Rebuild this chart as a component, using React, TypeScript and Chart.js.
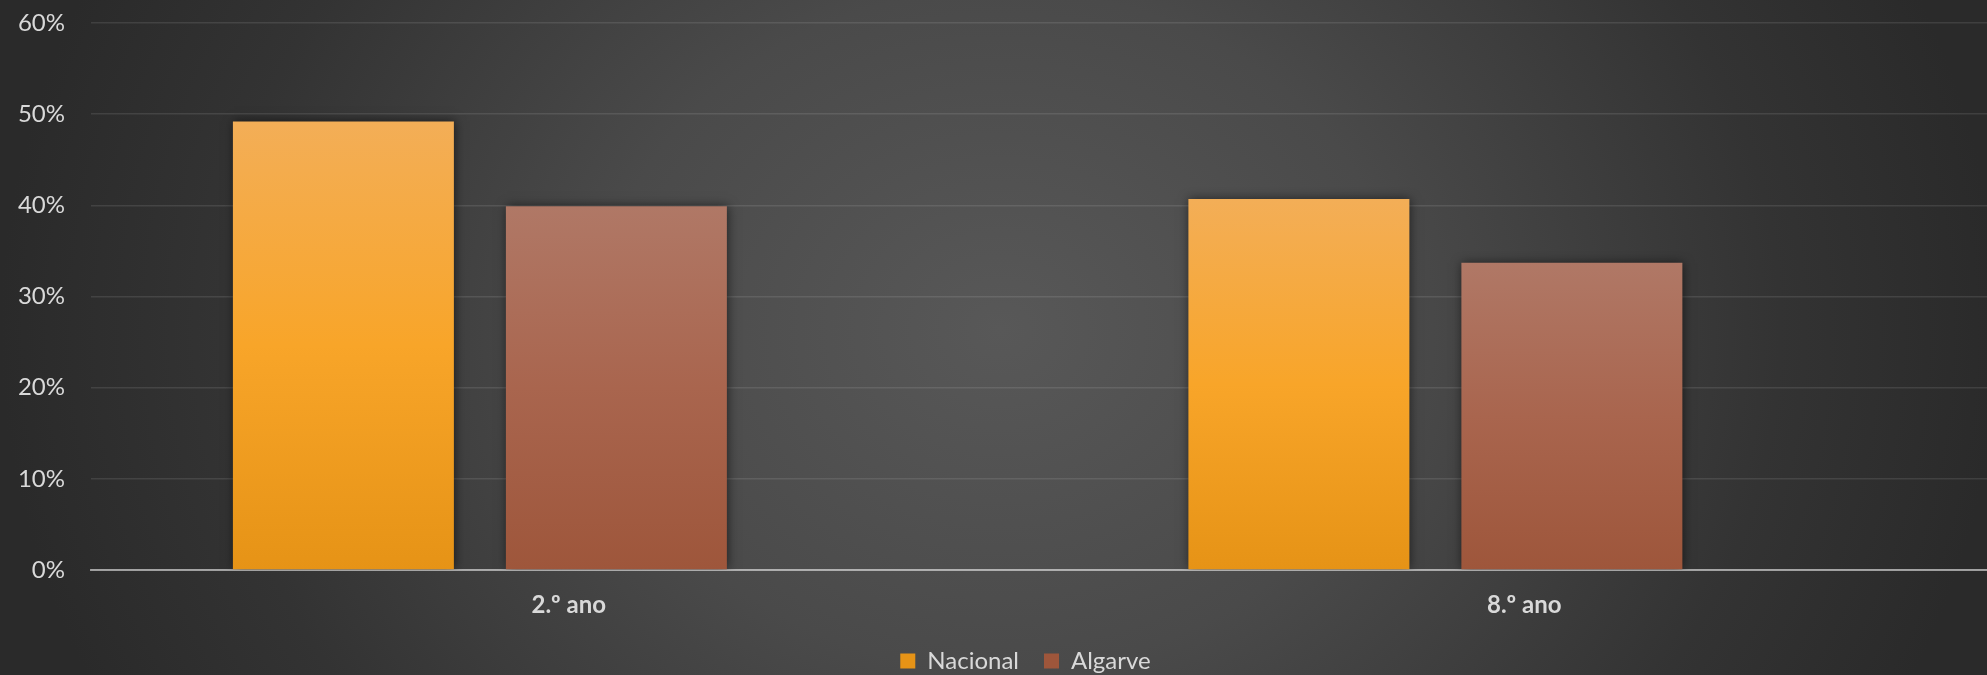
import React, { useEffect, useRef } from "react";
import { Chart, registerables } from "chart.js";

Chart.register(...registerables);

// ---- data ----
const categories: string[] = ["2.º ano", "8.º ano"];
const seriesNames: string[] = ["Nacional", "Algarve"];
const nacional: number[] = [49.2, 40.7];
const algarve: number[] = [39.9, 33.7];
const yMin = 0;
const yMax = 60;
const yStep = 10;

// ---- styles ----
const FONT = "Lato, 'Open Sans', sans-serif";
const TEXT = "#d9d9d9";
const barShift = 0.093; // bar group sits a bit left of its category label (as in the reference)
const gradients: [string, string, string][] = [
  ["#f3ae57", "#f8a529", "#e69316"],
  ["#b07866", "#a9654e", "#9e563b"],
];
const solids = ["#f6a530", "#a8634c"];

function makeBg(i: number) {
  return (ctx: any) => {
    const chart = ctx.chart;
    if (ctx.type !== "data" || !chart.chartArea) return solids[i];
    const y = chart.scales.y;
    const v = ctx.parsed ? ctx.parsed.y : 0;
    const top = y.getPixelForValue(v);
    const bot = y.getPixelForValue(0);
    if (!isFinite(top) || !isFinite(bot) || top === bot) return solids[i];
    const g = chart.ctx.createLinearGradient(0, top, 0, bot);
    g.addColorStop(0, gradients[i][0]);
    g.addColorStop(0.5, gradients[i][1]);
    g.addColorStop(1, gradients[i][2]);
    return g;
  };
}

const shadowPlugin = {
  id: "barShadow",
  beforeDatasetsDraw(chart: any) {
    const c = chart.ctx;
    c.save();
    c.shadowColor = "rgba(0,0,0,0.55)";
    c.shadowBlur = 10;
    c.shadowOffsetX = 1;
    c.shadowOffsetY = 0;
  },
  afterDatasetsDraw(chart: any) {
    chart.ctx.restore();
  },
};

export default function App() {
  const ref = useRef<HTMLCanvasElement | null>(null);

  useEffect(() => {
    if (!ref.current) return;
    const series = [nacional, algarve];
    const chart = new Chart(ref.current, {
      type: "bar",
      data: {
        labels: categories,
        datasets: seriesNames.map((name, si) => ({
          label: name,
          data: categories.map((_, ci) => ({ x: ci, y: series[si][ci] })),
          xAxisID: "xb",
          backgroundColor: makeBg(si),
          borderWidth: 0,
          categoryPercentage: 0.5714,
          barPercentage: 0.8095,
        })),
      },
      options: {
        animation: false,
        responsive: true,
        maintainAspectRatio: false,
        layout: { padding: { top: 23, right: 0, left: 0, bottom: 0 } },
        plugins: {
          legend: {
            position: "bottom",
            labels: {
              color: TEXT,
              font: { family: FONT, size: 24 },
              boxWidth: 15,
              boxHeight: 15,
              padding: 25,
            },
          },
          tooltip: { enabled: false },
        },
        scales: {
          x: {
            type: "category",
            axis: "x",
            position: "bottom",
            offset: true,
            z: 1,
            grid: { display: false, drawTicks: false, offset: true },
            border: { display: true, color: "rgba(255,255,255,0.52)", width: 2 },
            ticks: {
              color: TEXT,
              font: { family: FONT, size: 24, weight: "bold" },
              padding: 21,
              maxRotation: 0,
            },
            afterFit: (s: any) => {
              s.height = 54;
            },
          },
          xb: {
            type: "linear",
            axis: "x",
            position: "bottom",
            display: false,
            offset: false,
            min: -0.5 + barShift,
            max: categories.length - 0.5 + barShift,
            ticks: { stepSize: 1 },
            grid: { display: false },
          },
          y: {
            min: yMin,
            max: yMax,
            grid: { color: "rgba(255,255,255,0.1)", lineWidth: 1.5, drawTicks: false },
            border: { display: false },
            ticks: {
              stepSize: yStep,
              color: TEXT,
              font: { family: FONT, size: 24 },
              padding: 26,
              callback: (v: any) => v + "%",
            },
            afterFit: (s: any) => {
              s.width = 91;
              s.paddingTop = 14;
              s.paddingBottom = 14;
            },
          },
          yRight: {
            type: "linear",
            axis: "y",
            position: "right",
            display: false,
            afterFit: (s: any) => {
              s.width = 49;
            },
          },
        },
      } as any,
      plugins: [shadowPlugin],
    });
    return () => chart.destroy();
  }, []);

  return (
    <div
      style={{
        position: "fixed",
        left: 0,
        top: 0,
        width: 1987,
        height: 675,
        overflow: "hidden",
        background:
          "radial-gradient(1000px 850px at 1000px 330px, #585858 0%, #4a4a4a 40%, #333333 78%, #2a2a2a 100%)",
      }}
    >
      <div style={{ position: "absolute", left: 0, top: 0, width: 2051, height: 683 }}>
        <canvas ref={ref} />
      </div>
    </div>
  );
}
